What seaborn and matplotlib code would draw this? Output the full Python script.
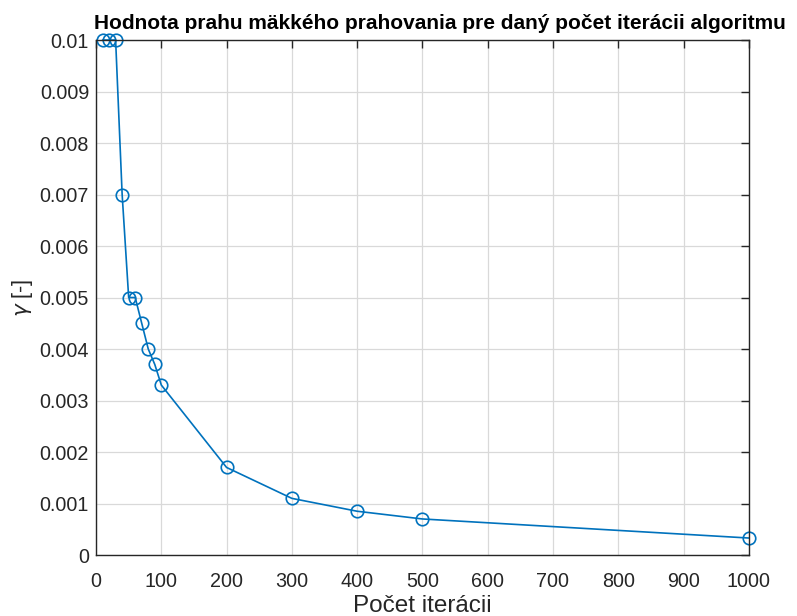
import numpy as np
import pandas as pd
import seaborn as sns
import matplotlib.pyplot as plt

sns.set_style("white")
plt.rcParams['font.family'] = ['Liberation Sans', 'DejaVu Sans']
plt.rcParams['mathtext.fontset'] = 'dejavusans'

iterations = [10, 20, 30, 40, 50, 60, 70, 80, 90, 100, 200, 300, 400, 500, 1000]
gamma = [0.01, 0.01, 0.01, 0.007, 0.005, 0.005, 0.0045, 0.004, 0.0037, 0.0033,
         0.0017, 0.0011, 0.00085, 0.0007, 0.00033]

x_ticks = list(range(0, 1001, 100))
y_ticks = [0, 0.001, 0.002, 0.003, 0.004, 0.005, 0.006, 0.007, 0.008, 0.009, 0.01]
y_labels = ["0", "0.001", "0.002", "0.003", "0.004", "0.005", "0.006", "0.007", "0.008", "0.009", "0.01"]

df = pd.DataFrame({"iter": iterations, "gamma": gamma})

fig = plt.figure(figsize=(7.97, 6.16), dpi=100)
ax = fig.add_axes([0.1205, 0.099, 0.819, 0.836])

sns.lineplot(data=df, x="iter", y="gamma", ax=ax, color="#0072BD", linewidth=1.2,
             marker="o", markersize=9, markerfacecolor="none",
             markeredgecolor="#0072BD", markeredgewidth=1.2, clip_on=False)

ax.set_xlim(0, 1000)
ax.set_ylim(0, 0.01)
ax.set_xticks(x_ticks)
ax.set_xticklabels([str(t) for t in x_ticks])
ax.set_yticks(y_ticks)
ax.set_yticklabels(y_labels)

ax.grid(True, color="#d9d9d9", linewidth=0.9)
ax.set_axisbelow(True)
for s in ax.spines.values():
    s.set_color("#262626")
    s.set_linewidth(1.0)
ax.tick_params(direction="in", top=True, right=True, length=6, width=1.0,
               color="#262626", labelcolor="#262626", labelsize=14.2)
ax.tick_params(axis="x", pad=12)
ax.tick_params(axis="y", pad=5)

ax.set_xlabel("Počet iterácii", fontsize=17.5, color="#262626", labelpad=3)
ax.set_ylabel(r"$\gamma$ [-]", fontsize=15.5, color="#262626", labelpad=3)
ax.set_title("Hodnota prahu mäkkého prahovania pre daný počet iterácii algoritmu",
             fontsize=15, fontweight="bold", color="black", pad=8, x=0.527)

fig.savefig("out.png", dpi=100)
